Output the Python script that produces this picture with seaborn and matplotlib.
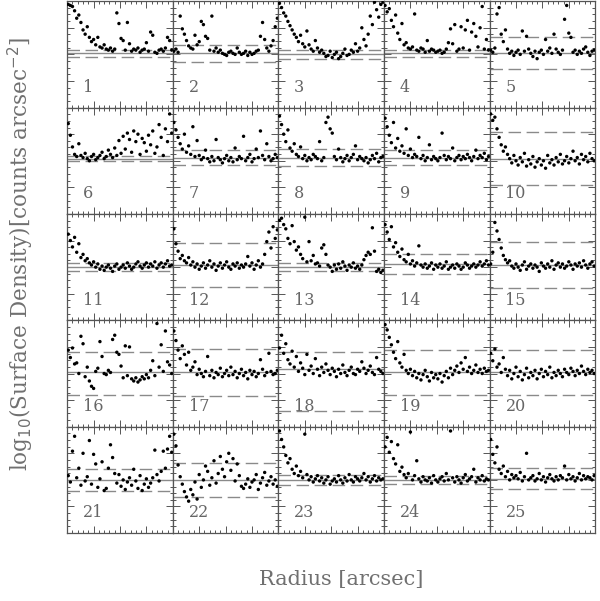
import numpy as np
import pandas as pd
import seaborn as sns
import matplotlib.pyplot as plt
from matplotlib.ticker import MultipleLocator

# radius bins shared by all 25 fields (arcsec, arbitrary scale)
radius = [1, 3, 5, 7, 9, 11, 13, 15, 17, 19, 21, 23, 25, 27, 29, 31, 33, 35, 37, 39,
          41, 43, 45, 47, 49, 51, 53, 55, 57, 59, 61, 63, 65, 67, 69, 71, 73, 75, 77, 79,
          81, 83, 85, 87, 89, 91, 93, 95, 97, 99]

# background level (solid line) and the upper / lower dashed levels per field
background = [5.1, 5.1, 5.0, 5.1, 5.1,
              5.2, 5.3, 5.3, 5.3, 5.2,
              5.0, 5.2, 5.0, 5.3, 5.2,
              5.1, 5.1, 5.4, 5.1, 5.1,
              5.0, 5.0, 5.0, 5.0, 5.1]
upper = [5.45, 5.9, 5.4, 5.4, 6.6,
         5.45, 6.0, 6.1, 6.0, 7.7,
         5.4, 7.3, 5.4, 6.2, 7.4,
         7.0, 7.3, 7.0, 7.2, 7.2,
         6.0, 6.6, 5.5, 5.4, 6.1]
lower = [4.75, 4.3, 4.6, 4.8, 3.6,
         4.95, 4.6, 4.5, 4.6, 2.7,
         4.6, 3.1, 4.6, 4.4, 3.0,
         3.0, 2.9, 1.5, 3.0, 3.0,
         4.0, 3.4, 4.5, 4.6, 4.1]

p01 = [9.7, 9.6, 9.5, 9.1, 8.4, 8.7, 8.0, 7.3, 6.9, 7.6, 6.6, 6.2, 6.4, 5.9, 6.6,
       5.7, 5.6, 5.9, 5.5, 5.4, 5.6, 5.3, 5.5, 8.9, 7.9, 6.5, 6.3, 5.4, 8.0, 6.0,
       5.3, 5.5, 5.4, 5.6, 5.2, 5.4, 5.5, 6.1, 5.3, 7.1, 6.8, 5.2, 5.1, 5.4, 5.5,
       5.3, 5.6, 6.6, 6.3, 5.4]
p02 = [5.3, 5.5, 5.2, 8.6, 7.4, 6.9, 6.3, 5.8, 5.6, 5.5, 6.8, 5.9, 6.2, 8.1, 7.8,
       6.7, 6.5, 5.4, 8.6, 5.3, 5.6, 5.2, 5.4, 5.1, 5.0, 4.9, 5.2, 5.3, 5.1, 5.0,
       5.6, 5.2, 5.0, 5.1, 5.3, 4.9, 5.2, 5.0, 5.1, 5.3, 5.4, 6.7, 8.0, 6.4, 5.6,
       5.3, 5.8, 6.3, 7.6, 8.4]
p03 = [9.8, 9.4, 8.9, 8.6, 8.1, 7.7, 7.3, 6.9, 6.6, 6.2, 6.8, 6.0, 5.7, 7.2, 5.9,
       5.5, 5.3, 6.3, 5.6, 5.2, 5.4, 5.1, 4.8, 4.9, 5.3, 4.7, 5.0, 5.2, 4.6, 4.8,
       5.1, 5.5, 4.9, 5.0, 5.4, 5.2, 6.0, 5.3, 5.6, 7.5, 6.4, 5.8, 6.9, 8.6, 7.8,
       9.9, 9.2, 8.5, 9.7, 9.9]
p04 = [9.6, 9.0, 9.3, 8.2, 7.6, 8.7, 7.0, 6.4, 7.9, 5.9, 6.1, 5.6, 5.5, 5.7, 8.8,
       5.4, 5.3, 5.6, 5.5, 5.2, 6.3, 5.3, 5.5, 5.4, 5.2, 5.3, 5.4, 5.1, 5.2, 5.5,
       6.1, 7.4, 6.0, 7.8, 5.3, 5.5, 7.6, 5.6, 7.3, 8.2, 5.4, 7.1, 7.9, 6.7, 5.7,
       7.5, 9.5, 5.5, 6.4, 5.4]
p05 = [5.4, 5.2, 5.6, 8.8, 9.4, 6.9, 6.2, 7.3, 5.5, 5.1, 5.3, 4.9, 5.2, 5.4, 5.0,
       7.2, 5.3, 6.7, 5.5, 5.1, 4.8, 5.3, 4.6, 5.2, 5.4, 5.0, 6.4, 5.3, 5.6, 5.1,
       6.9, 5.5, 5.2, 5.0, 5.4, 8.3, 9.6, 7.0, 6.6, 5.2, 5.4, 5.0, 5.3, 5.1, 5.5,
       5.7, 5.2, 4.9, 5.3, 5.4]
p06 = [8.5, 7.4, 6.3, 5.6, 5.4, 6.6, 5.5, 5.3, 5.7, 5.2, 5.0, 5.4, 5.6, 5.1, 5.3,
       5.5, 5.8, 5.2, 5.4, 6.0, 5.6, 5.3, 6.2, 5.5, 6.9, 5.7, 7.3, 6.1, 7.6, 7.0,
       5.8, 7.8, 6.8, 7.5, 5.6, 7.1, 6.7, 5.9, 7.4, 6.5, 7.8, 5.7, 6.3, 8.4, 7.2,
       5.5, 8.0, 6.8, 9.4, 7.6]
p07 = [8.6, 7.9, 7.2, 6.6, 6.1, 7.5, 5.8, 6.4, 5.6, 8.2, 5.4, 6.9, 5.5, 5.1, 5.3,
       6.0, 5.2, 4.9, 5.4, 5.0, 7.0, 5.3, 5.1, 4.8, 5.2, 5.5, 5.0, 5.3, 4.9, 6.2,
       5.1, 5.4, 5.2, 7.3, 5.0, 5.3, 5.6, 4.9, 5.2, 6.1, 5.3, 7.8, 5.5, 5.1, 6.6,
       5.4, 5.0, 5.2, 5.6, 5.3]
p08 = [9.2, 8.4, 7.5, 6.8, 7.9, 6.2, 5.9, 6.6, 5.6, 5.4, 6.3, 5.2, 5.5, 5.0, 5.3,
       5.1, 5.6, 5.4, 5.2, 6.8, 5.0, 5.3, 8.6, 9.1, 8.0, 7.6, 5.4, 5.1, 6.1, 5.3,
       4.9, 5.2, 5.5, 5.0, 5.3, 5.6, 6.4, 5.1, 5.4, 5.2, 5.0, 5.3, 4.8, 5.1, 5.5,
       5.2, 5.7, 4.9, 5.3, 5.4]
p09 = [9.0, 8.2, 7.4, 6.7, 8.6, 6.2, 7.1, 5.9, 6.4, 5.7, 8.0, 5.5, 6.1, 5.3, 5.6,
       5.4, 7.2, 5.2, 5.5, 5.0, 5.3, 6.5, 5.1, 5.4, 5.2, 5.0, 5.3, 7.6, 5.5, 5.1,
       5.4, 5.2, 6.2, 5.0, 5.3, 5.5, 5.1, 5.4, 5.2, 5.6, 5.3, 5.0, 5.4, 6.0, 5.2,
       5.5, 5.3, 5.7, 5.1, 5.4]
p10 = [9.4, 8.8, 9.1, 8.0, 7.2, 6.5, 5.9, 6.3, 5.6, 5.2, 4.8, 5.5, 5.0, 4.6, 5.3,
       4.9, 5.7, 4.5, 5.1, 4.7, 5.4, 4.4, 4.9, 5.2, 4.6, 5.0, 4.3, 5.5, 4.8, 5.1,
       4.6, 5.3, 4.9, 5.6, 4.7, 5.0, 5.4, 4.8, 5.2, 5.9, 5.0, 5.3, 4.7, 5.6, 5.1,
       5.4, 4.9, 5.7, 5.2, 5.0]
p11 = [8.1, 7.5, 6.9, 7.8, 6.4, 7.2, 5.9, 6.2, 5.6, 5.8, 5.4, 5.2, 5.5, 5.0, 5.3,
       4.8, 5.1, 4.7, 5.0, 5.2, 4.9, 4.6, 5.1, 5.3, 4.8, 5.0, 5.2, 4.9, 5.4, 5.1,
       4.8, 5.0, 5.3, 5.5, 5.1, 4.9, 5.2, 5.4, 5.0, 5.3, 5.1, 5.5, 4.9, 5.2, 5.4,
       5.0, 5.3, 5.6, 5.1, 5.2]
p12 = [8.6, 7.2, 6.5, 5.8, 6.1, 5.6, 5.4, 5.9, 5.2, 5.5, 5.0, 5.3, 4.8, 5.1, 5.4,
       4.9, 5.2, 5.6, 5.0, 5.3, 4.7, 5.1, 5.4, 4.9, 5.2, 5.5, 5.0, 4.8, 5.3, 5.1,
       5.4, 4.9, 5.2, 5.0, 5.3, 6.0, 5.1, 5.4, 4.8, 5.2, 5.6, 5.0, 5.3, 6.2, 7.4,
       8.3, 6.8, 8.8, 7.7, 8.5]
p13 = [9.4, 9.6, 9.0, 8.6, 7.7, 7.2, 8.9, 7.4, 6.6, 6.9, 6.2, 5.8, 9.7, 5.5, 7.4,
       5.6, 6.1, 5.3, 5.4, 5.1, 6.8, 7.1, 6.2, 5.2, 5.0, 4.6, 5.2, 4.8, 5.3, 4.9,
       5.5, 5.1, 4.7, 5.2, 5.0, 5.4, 4.9, 5.1, 4.8, 5.2, 5.7, 6.1, 6.4, 6.2, 8.7,
       6.5, 4.6, 4.8, 4.5, 4.7]
p14 = [9.0, 8.3, 7.6, 8.8, 6.9, 7.3, 6.4, 6.0, 6.7, 5.7, 5.5, 6.2, 5.3, 5.6, 5.1,
       5.4, 7.0, 5.2, 5.0, 5.3, 4.9, 5.1, 5.4, 4.8, 5.2, 5.0, 5.3, 4.9, 5.1, 5.5,
       4.8, 5.0, 5.2, 4.9, 5.3, 5.1, 4.8, 5.0, 5.4, 5.2, 4.9, 5.1, 5.3, 5.0, 5.2,
       5.5, 5.1, 5.3, 5.6, 5.2]
p15 = [5.3, 6.4, 9.2, 8.4, 7.6, 6.8, 6.1, 5.7, 5.4, 5.6, 5.1, 4.9, 5.3, 5.0, 4.7,
       5.2, 5.5, 4.8, 5.1, 5.3, 4.9, 5.2, 5.0, 4.6, 5.4, 5.1, 4.9, 5.3, 5.0, 5.6,
       4.8, 5.2, 5.4, 5.0, 5.3, 4.9, 5.1, 5.5, 5.2, 4.8, 5.3, 5.1, 5.4, 5.0, 5.6,
       5.2, 4.9, 5.3, 5.5, 5.1]
p16 = [7.2, 6.5, 7.4, 5.9, 6.0, 5.0, 8.5, 7.8, 4.7, 5.6, 4.3, 3.8, 3.6, 5.2, 5.5,
       8.0, 6.6, 5.0, 4.9, 5.3, 5.1, 8.2, 8.6, 7.0, 6.8, 5.7, 4.6, 7.6, 4.8, 7.5,
       4.5, 4.3, 4.6, 4.2, 4.4, 4.7, 4.5, 4.9, 4.6, 5.3, 6.2, 4.8, 9.7, 5.6, 7.7,
       5.2, 9.0, 6.1, 5.8, 5.0]
p17 = [9.0, 8.1, 7.2, 6.4, 7.6, 6.8, 5.8, 7.0, 5.3, 5.6, 6.1, 4.9, 5.4, 5.0, 4.7,
       5.2, 6.6, 4.8, 5.3, 4.6, 5.1, 4.9, 5.5, 4.7, 5.0, 5.3, 4.8, 5.6, 4.9, 5.2,
       4.6, 5.0, 5.4, 4.8, 5.1, 4.5, 5.3, 4.9, 5.2, 4.7, 5.0, 6.3, 5.4, 4.8, 5.1,
       6.9, 5.2, 4.9, 5.0, 5.3]
p18 = [7.4, 8.6, 6.9, 7.8, 6.3, 5.9, 7.1, 5.6, 6.6, 5.2, 6.0, 5.5, 4.9, 6.8, 5.3,
       5.7, 5.0, 6.4, 5.4, 4.8, 5.6, 5.1, 5.9, 5.3, 4.9, 5.5, 5.2, 4.7, 5.4, 5.0,
       5.8, 5.1, 4.8, 5.3, 5.6, 5.0, 4.9, 5.4, 5.2, 6.1, 5.5, 5.0, 5.3, 5.7, 5.1,
       4.9, 6.5, 5.4, 5.2, 5.0]
p19 = [9.6, 9.1, 8.4, 7.7, 7.0, 6.4, 8.0, 6.0, 5.6, 6.8, 5.3, 5.0, 5.4, 4.8, 5.2,
       4.6, 5.0, 4.4, 4.9, 5.3, 4.7, 4.3, 5.1, 4.6, 4.9, 4.5, 5.0, 4.2, 4.8, 5.2,
       4.6, 5.5, 4.9, 5.3, 5.7, 5.1, 6.0, 5.4, 6.5, 5.2, 5.6, 5.0, 5.3, 5.8, 5.1,
       5.4, 5.0, 5.5, 5.2, 5.3]
p20 = [6.9, 6.2, 7.3, 5.6, 5.9, 5.1, 6.5, 5.4, 4.8, 5.3, 4.5, 5.0, 5.6, 4.7, 5.2,
       4.4, 4.9, 5.5, 4.6, 5.1, 4.8, 5.3, 4.5, 5.0, 5.4, 4.7, 5.2, 4.9, 5.6, 4.6,
       5.1, 4.8, 5.3, 5.0, 4.7, 5.4, 5.1, 4.9, 5.5, 5.2, 4.8, 5.3, 5.0, 5.7, 5.2,
       4.9, 5.4, 5.1, 5.3, 5.0]
p21 = [5.4, 4.8, 7.7, 9.1, 5.2, 6.1, 4.5, 7.5, 4.9, 5.3, 8.7, 4.6, 7.4, 6.5, 4.3,
       5.1, 6.7, 4.0, 4.2, 6.1, 8.3, 7.1, 5.6, 4.7, 5.5, 4.4, 5.0, 4.1, 4.8, 5.2,
       4.5, 6.0, 4.9, 4.2, 5.4, 4.0, 4.6, 5.1, 4.3, 4.7, 5.2, 7.8, 5.5, 4.9, 5.8,
       7.7, 6.1, 7.9, 9.1, 7.6]
p22 = [9.3, 8.2, 6.4, 5.3, 4.6, 3.9, 3.4, 3.0, 4.1, 3.6, 4.8, 3.2, 5.5, 4.3, 5.0,
       6.3, 5.8, 4.5, 5.2, 6.8, 4.7, 5.6, 7.2, 6.0, 5.3, 6.7, 7.5, 5.9, 7.0, 4.9,
       6.5, 5.4, 4.4, 4.2, 4.6, 5.1, 4.3, 4.8, 5.0, 5.5, 4.1, 4.7, 5.2, 5.7, 4.5,
       4.9, 5.3, 4.6, 5.0, 4.4]
p23 = [9.6, 8.8, 8.1, 7.3, 6.6, 7.0, 6.0, 5.6, 6.3, 5.4, 5.8, 5.2, 9.3, 5.5, 5.0,
       5.3, 4.8, 5.1, 5.4, 4.9, 5.2, 4.7, 5.0, 5.3, 4.6, 4.9, 5.1, 4.8, 5.4, 5.0,
       4.7, 5.2, 4.9, 5.5, 5.0, 4.8, 5.3, 5.1, 4.9, 5.2, 5.6, 5.0, 5.3, 4.8, 5.1,
       5.4, 4.9, 5.2, 5.0, 5.1]
p24 = [8.1, 9.0, 7.6, 8.6, 7.0, 6.5, 8.3, 5.8, 6.2, 5.5, 5.2, 5.6, 9.5, 5.0, 5.4,
       6.8, 5.1, 4.8, 5.3, 5.0, 4.9, 5.2, 4.7, 5.4, 5.0, 4.8, 5.1, 5.3, 4.9, 5.6,
       5.0, 9.6, 5.2, 4.8, 5.3, 5.0, 4.7, 5.2, 5.5, 4.9, 5.1, 5.3, 6.0, 4.8, 5.2,
       5.0, 5.4, 4.9, 5.1, 5.0]
p25 = [8.8, 7.4, 6.6, 8.1, 6.0, 5.6, 6.3, 5.3, 5.8, 5.0, 5.5, 5.2, 5.4, 5.1, 5.7,
       4.9, 5.3, 7.5, 5.0, 5.2, 5.4, 4.9, 5.1, 5.6, 5.0, 5.3, 4.8, 5.2, 5.5, 5.1,
       4.9, 5.3, 5.0, 5.4, 5.2, 6.3, 5.0, 5.5, 5.1, 5.3, 4.9, 5.2, 5.6, 5.0, 5.4,
       5.1, 5.3, 5.2, 5.0, 5.4]

profiles = [p01, p02, p03, p04, p05, p06, p07, p08, p09, p10,
            p11, p12, p13, p14, p15, p16, p17, p18, p19, p20,
            p21, p22, p23, p24, p25]

sns.set_style("ticks")
plt.rcParams["font.family"] = ["DejaVu Serif"]

fig, axes = plt.subplots(5, 5, figsize=(6, 6.01), dpi=100, sharex=True, sharey=True)
fig.subplots_adjust(left=0.112, right=0.992, bottom=0.113, top=0.998,
                    wspace=0, hspace=0)

edge = "#555555"
for i, ax in enumerate(axes.flat):
    df = pd.DataFrame({"radius": radius, "logsd": profiles[i]})
    ax.axhline(background[i], color="#8a8a8a", lw=1.0, zorder=1)
    ax.axhline(upper[i], color="#8a8a8a", lw=1.0, dashes=(9, 4), zorder=1)
    ax.axhline(lower[i], color="#8a8a8a", lw=1.0, dashes=(9, 4), zorder=1)
    sns.scatterplot(data=df, x="radius", y="logsd", ax=ax, s=6, color="black",
                    edgecolor="none", zorder=3, legend=False)
    ax.text(0.15, 0.19, str(i + 1), transform=ax.transAxes, fontsize=11.5,
            color="#666666", ha="left", va="center")
    ax.set_xlim(0, 100)
    ax.set_ylim(0, 10)
    ax.xaxis.set_major_locator(MultipleLocator(25))
    ax.xaxis.set_minor_locator(MultipleLocator(5))
    ax.yaxis.set_major_locator(MultipleLocator(2.5))
    ax.yaxis.set_minor_locator(MultipleLocator(0.625))
    ax.tick_params(which="both", direction="in", top=True, right=True,
                   labelbottom=False, labelleft=False, color=edge, width=0.7)
    ax.tick_params(which="major", length=5)
    ax.tick_params(which="minor", length=2.5)
    ax.set_xlabel("")
    ax.set_ylabel("")
    for sp in ax.spines.values():
        sp.set_color(edge)
        sp.set_linewidth(0.9)

fig.text(0.568, 0.035, "Radius [arcsec]", ha="center", va="center",
         fontsize=15, color="#707070")
fig.text(0.035, 0.578, r"log$_{10}$(Surface Density)[counts arcsec$^{-2}$]",
         ha="center", va="center", rotation=90, fontsize=15.5, color="#707070")

fig.savefig("out.png", dpi=100)
